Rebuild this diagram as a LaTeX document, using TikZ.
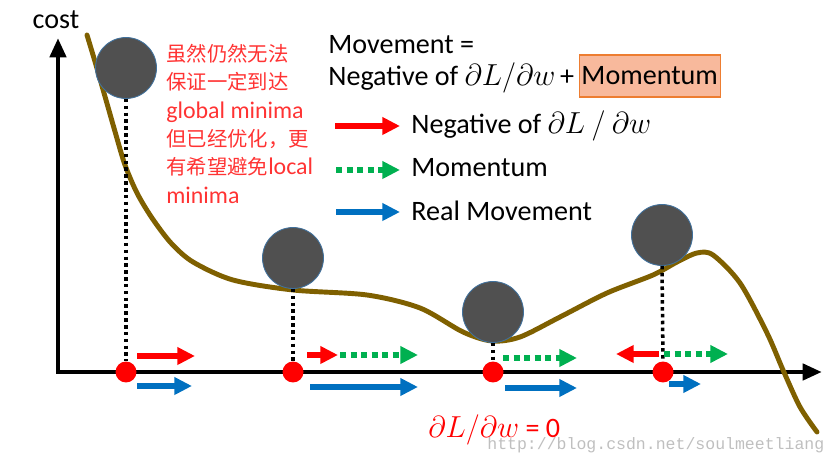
\documentclass[tikz,border=0pt]{standalone}
\usepackage{amsmath,amssymb}
\usepackage{fontspec}
\setmainfont{Carlito}
\newfontfamily\cjk{Noto Sans CJK SC}
\newfontfamily\wmfont{Liberation Mono}
\usepackage{tikz}
\usepackage{xcolor}
\usetikzlibrary{arrows.meta}

\definecolor{curvebrown}{HTML}{7F6000}
\definecolor{ballgray}{HTML}{505050}
\definecolor{ballline}{HTML}{41719C}
\definecolor{gradred}{HTML}{FF0000}
\definecolor{momgreen}{HTML}{00B050}
\definecolor{realblue}{HTML}{0070C0}
\definecolor{boxfill}{HTML}{F8B99C}
\definecolor{boxline}{HTML}{ED7D31}
\definecolor{notered}{HTML}{FF3333}

\newcommand\zh[1]{{\cjk\fontsize{11.6}{16.1}\selectfont #1}}
\newcommand\bigtext{\fontsize{16}{19}\selectfont}
\newcommand\notetext{\fontsize{13.6}{16.1}\selectfont}

\begin{document}
\begin{tikzpicture}[x=0.02cm,y=-0.02cm,
  ball/.style={circle,fill=ballgray,draw=ballline,line width=0.5pt,minimum size=1.22cm,inner sep=0pt},
  reddot/.style={circle,fill=red,minimum size=0.42cm,inner sep=0pt},
  axisline/.style={line width=2.8pt,{Triangle[length=11pt,width=9pt]}-{Triangle[length=11pt,width=9pt]}},
  dropline/.style={line width=2pt,dash pattern=on 2pt off 1.9pt},
  gradarr/.style={gradred,line width=3.4pt,-{Triangle[length=10pt,width=9.5pt]}},
  momarr/.style={momgreen,line width=3.2pt,dash pattern=on 3.4pt off 2.6pt,-{Triangle[length=10pt,width=9.5pt]}},
  realarr/.style={realblue,line width=3.4pt,-{Triangle[length=10pt,width=9.5pt]}}]
\useasboundingbox (0,0) rectangle (838,465);

% axes
\coordinate (ytop) at (58,38);
\coordinate (origin) at (58,372);
\coordinate (xend) at (822,372);
\draw[axisline] (ytop) -- (origin) -- (xend);
\node[font=\bigtext] (costlabel) at (56,20) {cost};

% cost curve
\draw[curvebrown,line width=2.8pt,line cap=round] plot[smooth,tension=0.5] coordinates {
  (87,35) (96,65) (106,100) (116,135) (125,165) (137,193) (152,218) (171,243)
  (193,262) (233,280) (293,290) (367,295) (420,308) (463,332) (492,341)
  (520,337) (560,317) (607,293) (653,275) (677,262) (697,253) (713,255)
  (740,283) (767,333) (783,370) (800,407) (817,432)};

% balls and points on the axis
\node[ball] (ball1) at (126,68) {};
\node[ball] (ball2) at (293,258) {};
\node[ball] (ball3) at (493,312) {};
\node[ball] (ball4) at (662,235) {};
\node[reddot] (dot1) at (126,372) {};
\node[reddot] (dot2) at (293,372) {};
\node[reddot] (dot3) at (493,372) {};
\node[reddot] (dot4) at (663,372) {};
\draw[dropline] (ball1.south) -- (dot1.north);
\draw[dropline] (ball2.south) -- (dot2.north);
\draw[dropline] (ball3.south) -- (dot3.north);
\draw[dropline] (ball4.south) -- (dot4.north);

% movements
\draw[gradarr] ([shift={(11,-16)}]dot1.center) -- ++(58,0);
\draw[realarr] ([shift={(11,14)}]dot1.center) -- ++(55,0);
\draw[gradarr] ([shift={(14,-17)}]dot2.center) -- ++(31,0);
\draw[momarr] ([shift={(47,-17)}]dot2.center) -- ++(78,0);
\draw[realarr] ([shift={(17,15)}]dot2.center) -- ++(108,0);
\draw[momarr] ([shift={(10,-14)}]dot3.center) -- ++(74,0);
\draw[realarr] ([shift={(12,16)}]dot3.center) -- ++(72,0);
\draw[gradarr] ([shift={(-4,-18)}]dot4.center) -- ++(-43,0);
\draw[momarr] ([shift={(1,-18)}]dot4.center) -- ++(64,0);
\draw[realarr] ([shift={(6,12)}]dot4.center) -- ++(32,0);

% formula
\node[anchor=west,font=\bigtext,inner sep=0pt] (mvtitle) at (328,45) {Movement =};
\node[anchor=west,font=\bigtext,inner sep=0pt] (mvsum) at (328,78) {Negative of $\partial L/\partial w$\,+};
\node[anchor=west,font=\bigtext,fill=boxfill,draw=boxline,line width=0.8pt,
  minimum height=0.84cm,minimum width=2.82cm,inner sep=0pt] (mombox) at ([shift={(4,-2)}]mvsum.east) {Momentum};

% legend
\node[anchor=west,font=\bigtext,inner sep=0pt] (lgrad) at (411,126) {Negative of $\partial L\ /\ \partial w$};
\node[anchor=west,font=\bigtext,inner sep=0pt] (lmom) at (411,168) {Momentum};
\node[anchor=west,font=\bigtext,inner sep=0pt] (lreal) at (411,211) {Real Movement};
\draw[gradarr] ([shift={(-76,0)}]lgrad.west) -- ([shift={(-11,0)}]lgrad.west);
\draw[momarr] ([shift={(-75,2)}]lmom.west) -- ([shift={(-11,2)}]lmom.west);
\draw[realarr] ([shift={(-75,1)}]lreal.west) -- ([shift={(-11,1)}]lreal.west);

% note
\node[anchor=north west,align=left,text=notered,font=\notetext,inner sep=0pt] (note) at (166,44)
  {\zh{虽然仍然无法}\\\zh{保证一定到达}\\global minima\\\zh{但已经优化，更}\\\zh{有希望避免}local\\minima};

\node[anchor=west,text=red,font=\fontsize{16}{19}\selectfont,inner sep=0pt] (zerograd) at (428,430) {$\partial L/\partial w$ = 0};
\node[anchor=west,text=black!25,font=\wmfont\fontsize{9.4}{11}\selectfont,inner sep=0pt] (watermark) at (487,445) {http://blog.csdn.net/soulmeetliang};
\end{tikzpicture}
\end{document}
